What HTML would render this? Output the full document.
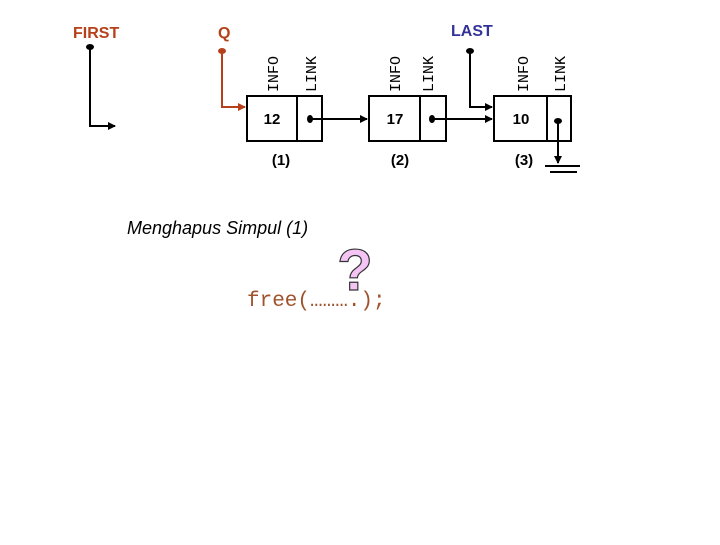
<!DOCTYPE html>
<html><head><meta charset="utf-8"><style>body{margin:0;background:#fff}</style></head><body>
<svg width="720" height="540" xmlns="http://www.w3.org/2000/svg" font-family="Liberation Sans, sans-serif">
<defs>
<marker id="a" markerWidth="8" markerHeight="8" refX="7" refY="4" orient="auto" markerUnits="userSpaceOnUse"><path d="M0,0L8,4L0,8z" fill="#000"/></marker>
<marker id="b" markerWidth="8" markerHeight="8" refX="7" refY="4" orient="auto" markerUnits="userSpaceOnUse"><path d="M0,0L8,4L0,8z" fill="#b5401a"/></marker>
</defs>
<g font-weight="bold" font-size="16">
<text x="73" y="38" fill="#b5401a">FIRST</text>
<text x="218" y="38" fill="#b5401a">Q</text>
<text x="451" y="36" fill="#333399">LAST</text>
</g>
<g fill="none" stroke="#000" stroke-width="2">
<rect x="247" y="96" width="75" height="45"/><line x1="297" y1="96" x2="297" y2="141"/>
<rect x="369" y="96" width="77" height="45"/><line x1="420" y1="96" x2="420" y2="141"/>
<rect x="494" y="96" width="77" height="45"/><line x1="547" y1="96" x2="547" y2="141"/>
<polyline points="90,47 90,126 115,126" marker-end="url(#a)"/>
<polyline points="470,51 470,107 492,107" marker-end="url(#a)"/>
<line x1="310" y1="119" x2="367" y2="119" marker-end="url(#a)"/>
<line x1="432" y1="119" x2="492" y2="119" marker-end="url(#a)"/>
<line x1="558" y1="121" x2="558" y2="163" marker-end="url(#a)"/>
<line x1="545" y1="166" x2="580" y2="166"/><line x1="550" y1="172" x2="577" y2="172"/>
<polyline points="222,51 222,107 245,107" stroke="#b5401a" marker-end="url(#b)"/>
</g>
<g fill="#000"><ellipse cx="90" cy="47" rx="4" ry="3"/><ellipse cx="470" cy="51" rx="4" ry="3"/>
<ellipse cx="310" cy="119" rx="3" ry="4"/><ellipse cx="432" cy="119" rx="3" ry="4"/><ellipse cx="558" cy="121" rx="4" ry="3"/></g>
<ellipse cx="222" cy="51" rx="4" ry="3" fill="#b5401a"/>
<g font-family="Liberation Mono, monospace" font-size="15">
<text transform="translate(278,92) rotate(-90)">INFO</text>
<text transform="translate(316,92) rotate(-90)">LINK</text>
<text transform="translate(400,92) rotate(-90)">INFO</text>
<text transform="translate(433,92) rotate(-90)">LINK</text>
<text transform="translate(528,92) rotate(-90)">INFO</text>
<text transform="translate(565,92) rotate(-90)">LINK</text>
</g>
<g font-weight="bold" font-size="15" text-anchor="middle">
<text x="272" y="124">12</text><text x="395" y="124">17</text><text x="521" y="124">10</text>
<text x="281" y="165">(1)</text><text x="400" y="165">(2)</text><text x="524" y="165">(3)</text>
</g>
<text x="127" y="234" font-size="18" font-style="italic">Menghapus Simpul (1)</text>
<text x="355" y="290" font-size="58" font-weight="bold" text-anchor="middle" fill="#f4c4f4" stroke="#333" stroke-width="1.2">?</text>
<text x="247" y="306" font-family="Liberation Mono, monospace" font-size="21" fill="#a0522d">free(……….);</text>
</svg>
</body></html>
